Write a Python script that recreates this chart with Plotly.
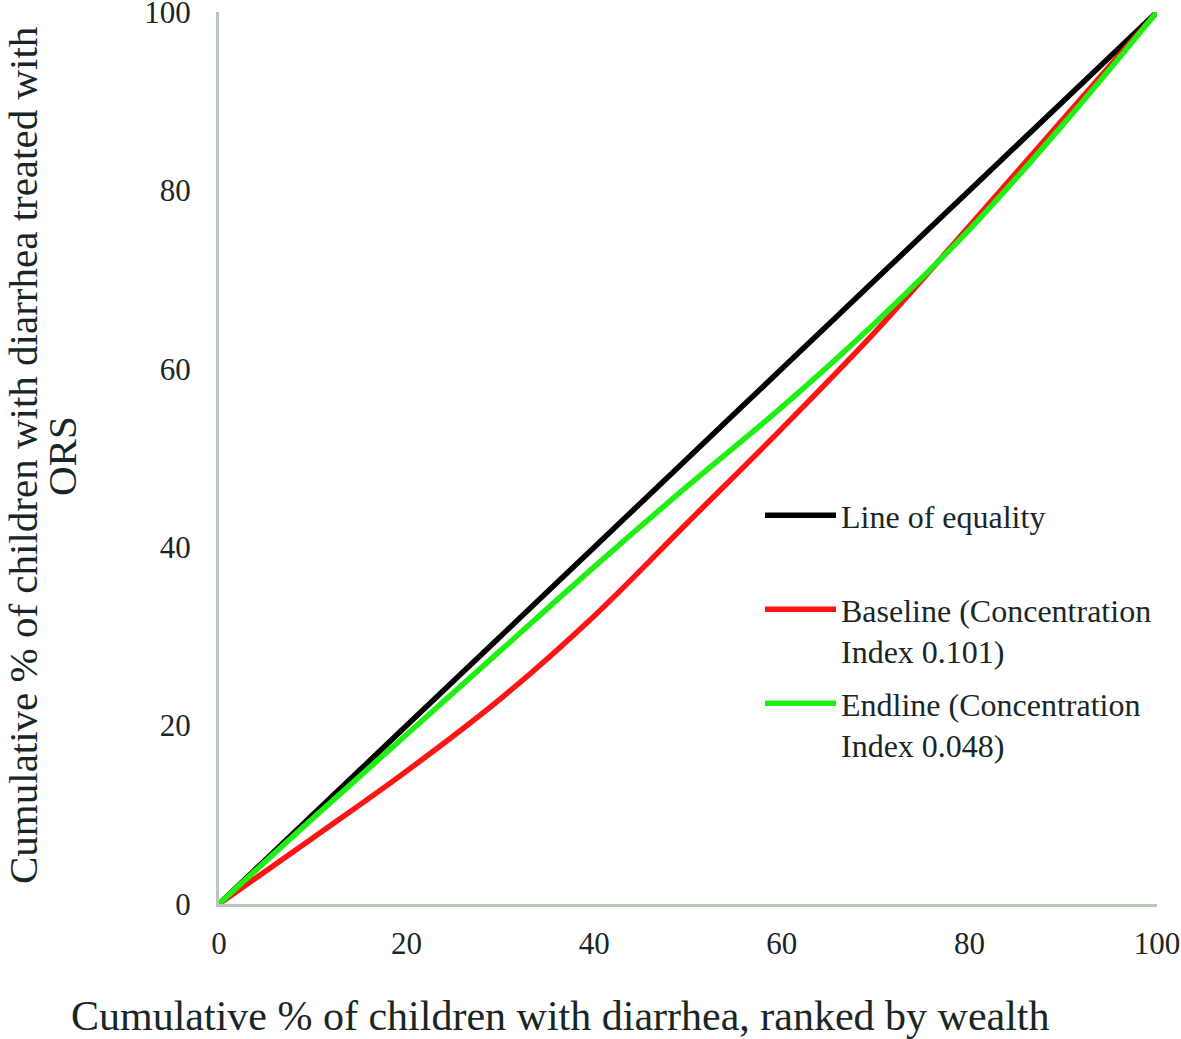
import plotly.graph_objects as go

# Cumulative % of children with diarrhea, ranked by wealth
x_pct = [0, 10, 20, 30, 40, 50, 60, 70, 80, 90, 100]
# Line of equality
equality = [0, 10, 20, 30, 40, 50, 60, 70, 80, 90, 100]
# Baseline (Concentration Index 0.101)
baseline = [0, 7.4, 14.9, 23.0, 32.3, 42.8, 53.3, 64.2, 76.0, 88.0, 100]
# Endline (Concentration Index 0.048)
endline = [0, 9.6, 19.0, 28.4, 37.8, 46.9, 55.7, 65.2, 75.6, 87.4, 100]

tick_vals = [0, 20, 40, 60, 80, 100]
tick_text = ["0", "20", "40", "60", "80", "100"]

names = ["Line of equality",
         "Baseline (Concentration<br>Index 0.101)",
         "Endline (Concentration<br>Index 0.048)"]
colors = ["#000000", "#ff1414", "#1ef014"]
series = [equality, baseline, endline]

TXT = "#1a2626"
SERIF = "Liberation Serif, Times New Roman, serif"

fig = go.Figure()
legend_ids = ["legend", "legend2", "legend3"]
for name, col, ys, lg in zip(names, colors, series, legend_ids):
    fig.add_trace(go.Scatter(
        x=x_pct, y=ys, mode="lines", name=name,
        line=dict(color=col, width=5.5, shape="spline", smoothing=1.0),
        cliponaxis=False, legend=lg, hoverinfo="skip"))

W, H = 1181, 1039
L, R, T, B = 219, 24, 12, 135
pw, ph = W - L - R, H - T - B


def px2paper_x(px):
    return (px - L) / pw


def py2paper_y(py):
    return (H - B - py) / ph


leg_common = dict(font=dict(family=SERIF, size=32, color=TXT),
                  bgcolor="rgba(0,0,0,0)", borderwidth=0,
                  xanchor="left", yanchor="top", valign="top",
                  itemwidth=71, tracegroupgap=0)

axis_common = dict(range=[0, 100], tickvals=tick_vals, ticktext=tick_text,
                   showgrid=False, zeroline=False, showline=True,
                   linecolor="#b8c6bc", linewidth=3, ticks="",
                   automargin=False, ticklabeloverflow="allow",
                   tickfont=dict(family=SERIF, size=31, color=TXT))

fig.update_layout(
    width=W, height=H,
    margin=dict(l=L, r=R, t=T, b=B, autoexpand=False),
    paper_bgcolor="white", plot_bgcolor="white",
    showlegend=True,
    legend=dict(x=px2paper_x(760), y=py2paper_y(488), **leg_common),
    legend2=dict(x=px2paper_x(760), y=py2paper_y(582), **leg_common),
    legend3=dict(x=px2paper_x(760), y=py2paper_y(676), **leg_common),
    xaxis=dict(ticklabelstandoff=10, **axis_common),
    yaxis=dict(ticklabelstandoff=19, **axis_common),
    annotations=[
        dict(text="Cumulative % of children with diarrhea, ranked by wealth",
             xref="paper", yref="paper", x=px2paper_x(560), y=py2paper_y(1016),
             xanchor="center", yanchor="middle", showarrow=False,
             font=dict(family=SERIF, size=42, color=TXT)),
        dict(text="Cumulative % of children with diarrhea treated with",
             xref="paper", yref="paper", x=px2paper_x(23), y=py2paper_y(456),
             xanchor="center", yanchor="middle", showarrow=False, textangle=-90,
             font=dict(family=SERIF, size=41, color=TXT)),
        dict(text="ORS",
             xref="paper", yref="paper", x=px2paper_x(62), y=py2paper_y(456),
             xanchor="center", yanchor="middle", showarrow=False, textangle=-90,
             font=dict(family=SERIF, size=41, color=TXT)),
    ],
)

fig.write_html("out.html", config={"displayModeBar": False},
               post_script="document.body.style.margin='0';")
